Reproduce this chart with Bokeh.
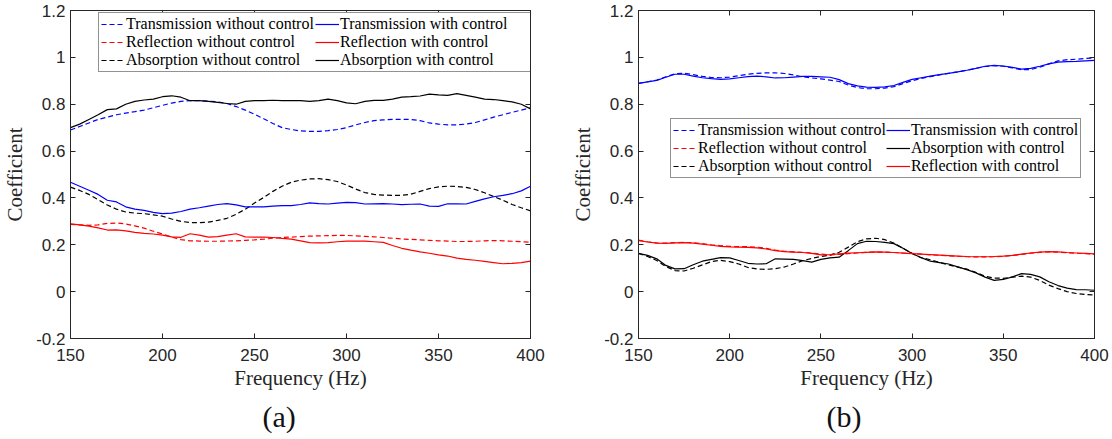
from bokeh.plotting import figure
from bokeh.models import (FixedTicker, LinearAxis, Legend, LegendItem, Title,
                          CustomJSTickFormatter, CustomLabelingPolicy, Range1d)
from bokeh.layouts import row
from bokeh.embed import file_html
from bokeh.resources import INLINE

freq = list(range(150, 405, 5))

# ---- panel (a) ----
a_trans_wo = [0.690, 0.705, 0.720, 0.735, 0.745, 0.755, 0.762, 0.768, 0.775, 0.785,
              0.795, 0.805, 0.812, 0.815, 0.815, 0.813, 0.810, 0.803, 0.790, 0.775,
              0.757, 0.738, 0.718, 0.700, 0.692, 0.686, 0.684, 0.684, 0.687, 0.692,
              0.700, 0.712, 0.722, 0.730, 0.733, 0.735, 0.735, 0.735, 0.730, 0.720,
              0.715, 0.712, 0.712, 0.715, 0.722, 0.733, 0.745, 0.755, 0.765, 0.775,
              0.785]
a_trans_w = [0.467, 0.450, 0.433, 0.415, 0.390, 0.383, 0.362, 0.352, 0.347, 0.338,
             0.333, 0.335, 0.342, 0.352, 0.358, 0.365, 0.372, 0.376, 0.370, 0.362,
             0.362, 0.362, 0.365, 0.367, 0.367, 0.372, 0.379, 0.376, 0.374, 0.378,
             0.381, 0.380, 0.374, 0.375, 0.376, 0.374, 0.371, 0.373, 0.374, 0.365,
             0.364, 0.375, 0.375, 0.374, 0.385, 0.396, 0.405, 0.411, 0.418, 0.430,
             0.450]
a_refl_wo = [0.287, 0.285, 0.283, 0.285, 0.291, 0.293, 0.289, 0.281, 0.271, 0.258,
             0.246, 0.233, 0.222, 0.217, 0.216, 0.215, 0.215, 0.216, 0.217, 0.219,
             0.221, 0.224, 0.228, 0.231, 0.233, 0.235, 0.237, 0.238, 0.239, 0.240,
             0.240, 0.238, 0.236, 0.234, 0.231, 0.228, 0.225, 0.223, 0.221, 0.219,
             0.217, 0.216, 0.214, 0.214, 0.215, 0.217, 0.218, 0.217, 0.215, 0.213,
             0.211]
a_refl_w = [0.289, 0.285, 0.280, 0.272, 0.263, 0.264, 0.259, 0.253, 0.249, 0.246,
            0.241, 0.234, 0.232, 0.247, 0.241, 0.233, 0.235, 0.241, 0.247, 0.234,
            0.233, 0.233, 0.231, 0.227, 0.224, 0.217, 0.209, 0.208, 0.209, 0.213,
            0.216, 0.216, 0.216, 0.213, 0.210, 0.197, 0.185, 0.177, 0.170, 0.164,
            0.157, 0.152, 0.143, 0.138, 0.134, 0.129, 0.124, 0.119, 0.121, 0.124,
            0.130]
a_abs_wo = [0.446, 0.432, 0.415, 0.393, 0.370, 0.352, 0.340, 0.335, 0.333, 0.328,
            0.322, 0.310, 0.300, 0.295, 0.294, 0.297, 0.304, 0.313, 0.330, 0.352,
            0.378, 0.402, 0.428, 0.450, 0.467, 0.476, 0.481, 0.482, 0.478, 0.470,
            0.455, 0.438, 0.423, 0.415, 0.412, 0.411, 0.411, 0.416, 0.428, 0.440,
            0.447, 0.450, 0.449, 0.445, 0.436, 0.422, 0.406, 0.390, 0.372, 0.358,
            0.345]
a_abs_w = [0.700, 0.715, 0.735, 0.755, 0.777, 0.780, 0.800, 0.812, 0.818, 0.822,
           0.832, 0.836, 0.830, 0.815, 0.815, 0.812, 0.808, 0.803, 0.800, 0.812,
           0.815, 0.815, 0.817, 0.815, 0.815, 0.815, 0.812, 0.815, 0.822, 0.815,
           0.806, 0.802, 0.812, 0.816, 0.816, 0.822, 0.830, 0.832, 0.835, 0.843,
           0.840, 0.838, 0.845, 0.838, 0.830, 0.822, 0.820, 0.815, 0.810, 0.800,
           0.780]

# ---- panel (b) ----
b_trans_wo = [0.889, 0.896, 0.903, 0.917, 0.930, 0.932, 0.926, 0.919, 0.914, 0.913,
              0.916, 0.922, 0.928, 0.932, 0.934, 0.934, 0.931, 0.925, 0.917, 0.912,
              0.908, 0.903, 0.897, 0.882, 0.871, 0.866, 0.866, 0.869, 0.875, 0.888,
              0.900, 0.910, 0.918, 0.925, 0.932, 0.938, 0.945, 0.953, 0.961, 0.965,
              0.962, 0.955, 0.947, 0.948, 0.958, 0.972, 0.985, 0.990, 0.992, 0.995,
              0.998]
b_trans_w = [0.889, 0.895, 0.902, 0.915, 0.928, 0.928, 0.920, 0.913, 0.909, 0.906,
             0.908, 0.913, 0.918, 0.920, 0.917, 0.912, 0.913, 0.916, 0.919, 0.919,
             0.917, 0.915, 0.905, 0.888, 0.878, 0.873, 0.872, 0.874, 0.880, 0.893,
             0.906, 0.913, 0.920, 0.926, 0.932, 0.938, 0.945, 0.953, 0.962, 0.966,
             0.963, 0.957, 0.950, 0.953, 0.962, 0.972, 0.980, 0.982, 0.983, 0.985,
             0.987]
b_refl_wo = [0.220, 0.213, 0.208, 0.207, 0.209, 0.210, 0.209, 0.205, 0.200, 0.196,
             0.193, 0.192, 0.192, 0.190, 0.185, 0.177, 0.172, 0.170, 0.168, 0.165,
             0.160, 0.157, 0.159, 0.162, 0.165, 0.168, 0.169, 0.169, 0.167, 0.165,
             0.163, 0.160, 0.157, 0.155, 0.153, 0.151, 0.149, 0.148, 0.148, 0.149,
             0.151, 0.154, 0.159, 0.164, 0.168, 0.170, 0.169, 0.166, 0.164, 0.162,
             0.160]
b_refl_w = [0.218, 0.212, 0.207, 0.206, 0.208, 0.209, 0.207, 0.203, 0.198, 0.193,
            0.191, 0.190, 0.189, 0.187, 0.182, 0.175, 0.171, 0.169, 0.167, 0.163,
            0.157, 0.158, 0.161, 0.164, 0.166, 0.168, 0.170, 0.169, 0.167, 0.164,
            0.162, 0.160, 0.158, 0.156, 0.154, 0.152, 0.150, 0.149, 0.149, 0.150,
            0.152, 0.155, 0.160, 0.165, 0.169, 0.171, 0.170, 0.167, 0.165, 0.163,
            0.161]
b_abs_wo = [0.163, 0.150, 0.133, 0.107, 0.090, 0.088, 0.100, 0.114, 0.128, 0.134,
            0.128, 0.118, 0.103, 0.097, 0.095, 0.098, 0.105, 0.118, 0.132, 0.142,
            0.150, 0.156, 0.168, 0.190, 0.213, 0.225, 0.228, 0.222, 0.207, 0.185,
            0.163, 0.145, 0.136, 0.125, 0.114, 0.105, 0.096, 0.082, 0.066, 0.058,
            0.057, 0.062, 0.066, 0.062, 0.048, 0.028, 0.013, 0.000, -0.008, -0.012,
            -0.014]
b_abs_w = [0.163, 0.155, 0.140, 0.112, 0.097, 0.098, 0.115, 0.130, 0.138, 0.145,
           0.144, 0.133, 0.121, 0.118, 0.119, 0.140, 0.139, 0.138, 0.132, 0.126,
           0.138, 0.144, 0.147, 0.175, 0.205, 0.215, 0.214, 0.210, 0.205, 0.185,
           0.163, 0.145, 0.130, 0.124, 0.118, 0.106, 0.094, 0.080, 0.062, 0.048,
           0.052, 0.063, 0.077, 0.074, 0.063, 0.042, 0.026, 0.015, 0.009, 0.008,
           0.006]

x_ticks = [150, 200, 250, 300, 350, 400]
y_ticks = [-0.2, 0, 0.2, 0.4, 0.6, 0.8, 1, 1.2]

AX = "#262626"
SANS = "'Liberation Sans', Arial, sans-serif"
SERIF = "'Liberation Serif', 'Times New Roman', serif"
BLUE, RED, BLACK = "#0000ff", "#ff0000", "#000000"
DASH = "5 3"

fmt = CustomJSTickFormatter(code="return tick.toFixed(1).replace(/\\.0$/, '');")


def style_axis(ax, labels=True):
    ax.major_tick_in = 5
    ax.major_tick_out = 0
    ax.minor_tick_line_color = None
    ax.axis_line_color = AX
    ax.major_tick_line_color = AX
    if labels:
        ax.major_label_text_font = SANS
        ax.major_label_text_font_size = "17px"
        ax.major_label_text_color = AX
        ax.axis_label_text_font = SERIF
        ax.axis_label_text_font_size = "21px"
        ax.axis_label_text_font_style = "normal"
        ax.axis_label_text_color = AX
    else:
        ax.major_label_text_font_size = "0px"
        ax.major_label_standoff = 0
        ax.major_label_policy = CustomLabelingPolicy(code="return new Set();")


def panel(series, legend_loc, label_w, caption, cap_offset, width,
          border_left, border_right):
    p = figure(width=width, height=438,
               x_range=Range1d(150, 400), y_range=Range1d(-0.2, 1.2),
               output_backend="svg", toolbar_location=None,
               min_border_left=border_left, min_border_right=border_right,
               min_border_top=10, min_border_bottom=100)
    p.grid.visible = False
    p.outline_line_color = AX
    p.outline_line_width = 1
    p.background_fill_color = "white"
    p.border_fill_color = "white"

    xa = p.xaxis[0]
    xa.ticker = FixedTicker(ticks=x_ticks)
    xa.axis_label = "Frequency (Hz)"
    style_axis(xa)
    xa.major_label_standoff = 10
    xa.axis_label_standoff = 2

    ya = p.yaxis[0]
    ya.ticker = FixedTicker(ticks=y_ticks)
    ya.formatter = fmt
    ya.axis_label = "Coefficient"
    style_axis(ya)
    ya.major_label_standoff = 5
    ya.axis_label_standoff = 6

    top = LinearAxis(ticker=FixedTicker(ticks=x_ticks))
    style_axis(top, labels=False)
    p.add_layout(top, "above")
    right = LinearAxis(ticker=FixedTicker(ticks=y_ticks))
    style_axis(right, labels=False)
    p.add_layout(right, "right")

    items = []
    for label, ys, color, dash in series:
        r = p.line(freq, ys, line_color=color, line_width=1.2, line_dash=dash)
        items.append(LegendItem(label=label, renderers=[r]))

    leg = Legend(items=items, location=legend_loc, ncols=2, orientation="vertical",
                 label_text_font=SERIF, label_text_font_size="16px",
                 label_text_color="#000000", label_height=18, glyph_height=18,
                 glyph_width=24, label_standoff=1, label_width=label_w, spacing=0,
                 padding=2, margin=0, border_line_color=AX, border_line_width=1,
                 background_fill_color="white", background_fill_alpha=1.0)
    p.add_layout(leg)

    p.add_layout(Title(text=caption, align="left", offset=cap_offset,
                       text_font=SERIF, text_font_size="30px",
                       text_font_style="normal", text_color="#111111",
                       standoff=11), "below")
    return p


series_a = [
    ("Transmission without control", a_trans_wo, BLUE, DASH),
    ("Reflection without control", a_refl_wo, RED, DASH),
    ("Absorption without control", a_abs_wo, BLACK, DASH),
    ("Transmission with control", a_trans_w, BLUE, "solid"),
    ("Reflection with control", a_refl_w, RED, "solid"),
    ("Absorption with control", a_abs_w, BLACK, "solid"),
]
series_b = [
    ("Transmission without control", b_trans_wo, BLUE, DASH),
    ("Reflection without control", b_refl_wo, RED, DASH),
    ("Absorption without control", b_abs_wo, BLACK, DASH),
    ("Transmission with control", b_trans_w, BLUE, "solid"),
    ("Absorption with control", b_abs_w, BLACK, "solid"),
    ("Reflection with control", b_refl_w, RED, "solid"),
]

# frame a: 68 -> 530 ; frame b: 632 -> 1094
pa = panel(series_a, (28, 266), 189, "(a)", 192, 568, 68, 38)
pb = panel(series_b, (32, 160), 20, "(b)", 188, 543, 64, 17)

layout = row(pa, pb)
open("out.html", "w").write(file_html(layout, INLINE))
